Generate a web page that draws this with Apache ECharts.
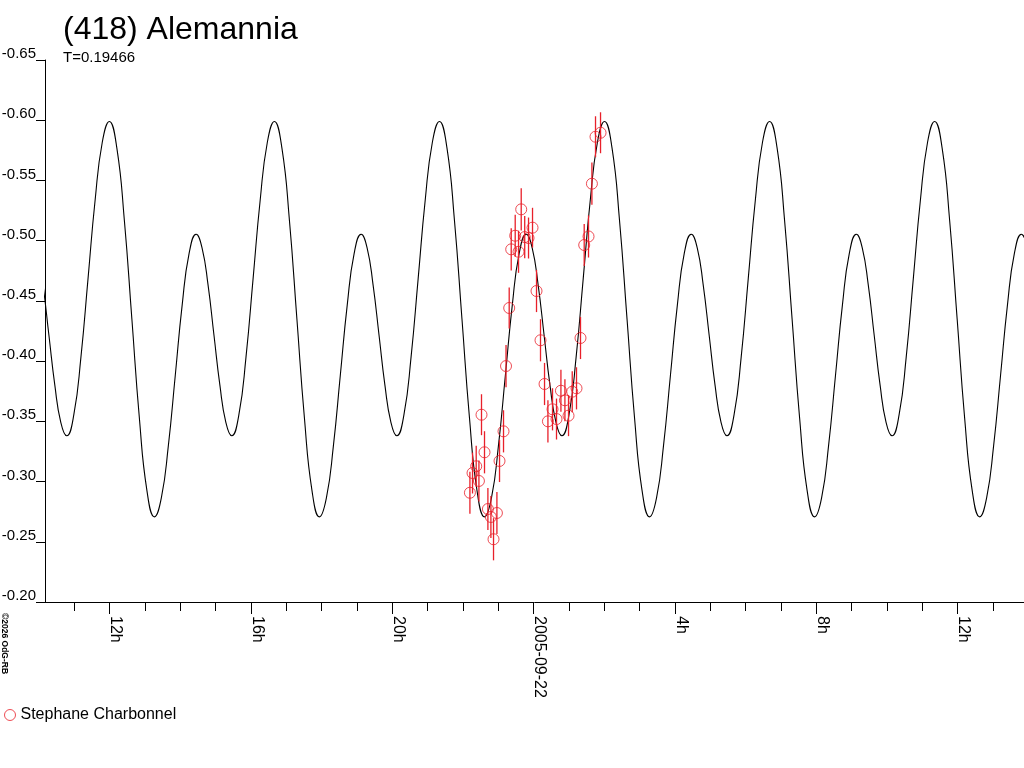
<!DOCTYPE html>
<html>
<head>
<meta charset="utf-8">
<script src="https://cdn.jsdelivr.net/npm/echarts@6/dist/echarts.min.js"></script>
<style>
html,body{margin:0;padding:0;background:#fff;}
#chart{width:1024px;height:768px;}
</style>
</head>
<body>
<div id="chart"></div>
<script>
// ---- text ----
const titleText = '(418) Alemannia';
const subtitleText = 'T=0.19466';
const observerName = 'Stephane Charbonnel';
const copyrightText = '\u00A92026 OdG-RB';

// ---- x axis (hours relative to 2005-09-22 00:00) ----
const xLabelValues = [-12, -8, -4, 0, 4, 8, 12];
const xLabelTexts = ['12h', '16h', '20h', '2005-09-22', '4h', '8h', '12h'];
const xMinorValues = [-13, -12, -11, -10, -9, -8, -7, -6, -5, -4, -3, -2, -1, 0, 1, 2, 3, 4, 5, 6, 7, 8, 9, 10, 11, 12, 13];

// ---- fitted lightcurve (hours, magnitude) ----
const curveHours = [
  -14.225, -14.057, -13.888, -13.720, -13.551, -13.383,
  -13.214, -13.014, -12.813, -12.612, -12.411, -12.210, -12.009, -11.797, -11.584, -11.371, -11.159, -10.946,
  -10.733, -10.537, -10.340, -10.143, -9.947, -9.750, -9.553, -9.385, -9.216, -9.048, -8.879, -8.711,
  -8.543, -8.342, -8.141, -7.940, -7.739, -7.538, -7.338, -7.125, -6.912, -6.700, -6.487, -6.274,
  -6.062, -5.865, -5.668, -5.472, -5.275, -5.078, -4.882, -4.713, -4.545, -4.376, -4.208, -4.039,
  -3.871, -3.670, -3.469, -3.268, -3.068, -2.867, -2.666, -2.453, -2.241, -2.028, -1.815, -1.603,
  -1.390, -1.193, -0.997, -0.800, -0.603, -0.407, -0.210, -0.041, 0.127, 0.296, 0.464, 0.633,
  0.801, 1.002, 1.203, 1.404, 1.604, 1.805, 2.006, 2.219, 2.431, 2.644, 2.857, 3.069,
  3.282, 3.479, 3.675, 3.872, 4.069, 4.265, 4.462, 4.631, 4.799, 4.968, 5.136, 5.305,
  5.473, 5.674, 5.875, 6.075, 6.276, 6.477, 6.678, 6.891, 7.103, 7.316, 7.529, 7.741,
  7.954, 8.151, 8.347, 8.544, 8.741, 8.937, 9.134, 9.302, 9.471, 9.639, 9.808, 9.976,
  10.145, 10.345, 10.546, 10.747, 10.948, 11.149, 11.350, 11.562, 11.775, 11.988, 12.200, 12.413,
  12.626, 12.822, 13.019, 13.216, 13.412, 13.609, 13.806, 13.974, 14.143
];
const curveMag = [
  -0.5053, -0.4941, -0.4635, -0.4217, -0.3798, -0.3492,
  -0.338, -0.3555, -0.4033, -0.4685, -0.5338, -0.5815, -0.599, -0.577, -0.5169, -0.4349, -0.3528, -0.2927,
  -0.2707, -0.2864, -0.3294, -0.388, -0.4467, -0.4896, -0.5053, -0.4941, -0.4635, -0.4217, -0.3798, -0.3492,
  -0.338, -0.3555, -0.4033, -0.4685, -0.5338, -0.5815, -0.599, -0.577, -0.5169, -0.4349, -0.3528, -0.2927,
  -0.2707, -0.2864, -0.3294, -0.388, -0.4467, -0.4896, -0.5053, -0.4941, -0.4635, -0.4217, -0.3798, -0.3492,
  -0.338, -0.3555, -0.4033, -0.4685, -0.5338, -0.5815, -0.599, -0.577, -0.5169, -0.4349, -0.3528, -0.2927,
  -0.2707, -0.2864, -0.3294, -0.388, -0.4467, -0.4896, -0.5053, -0.4941, -0.4635, -0.4217, -0.3798, -0.3492,
  -0.338, -0.3555, -0.4033, -0.4685, -0.5338, -0.5815, -0.599, -0.577, -0.5169, -0.4349, -0.3528, -0.2927,
  -0.2707, -0.2864, -0.3294, -0.388, -0.4467, -0.4896, -0.5053, -0.4941, -0.4635, -0.4217, -0.3798, -0.3492,
  -0.338, -0.3555, -0.4033, -0.4685, -0.5338, -0.5815, -0.599, -0.577, -0.5169, -0.4349, -0.3528, -0.2927,
  -0.2707, -0.2864, -0.3294, -0.388, -0.4467, -0.4896, -0.5053, -0.4941, -0.4635, -0.4217, -0.3798, -0.3492,
  -0.338, -0.3555, -0.4033, -0.4685, -0.5338, -0.5815, -0.599, -0.577, -0.5169, -0.4349, -0.3528, -0.2927,
  -0.2707, -0.2864, -0.3294, -0.388, -0.4467, -0.4896, -0.5053, -0.4941, -0.4635
];

// ---- observations (hours, magnitude, error) ----
const obsHours = [
  -1.803, -1.729, -1.625, -1.548, -1.475, -1.390, -1.294, -1.209, -1.135, -1.039,
  -0.965, -0.852, -0.781, -0.691, -0.634, -0.521, -0.427, -0.351, -0.252, -0.144,
  -0.031, 0.082, 0.195, 0.309, 0.405, 0.535, 0.648, 0.773, 0.886, 0.988,
  1.093, 1.214, 1.327, 1.432, 1.554, 1.650, 1.752, 1.894
];
const obsMag = [
  -0.2907, -0.3071, -0.3127, -0.3005, -0.3555, -0.3243, -0.2772, -0.2706, -0.2521, -0.2739,
  -0.3171, -0.3417, -0.3959, -0.4441, -0.4928, -0.5041, -0.4908, -0.5260, -0.5030, -0.5022,
  -0.5108, -0.4582, -0.4173, -0.3810, -0.3500, -0.3600, -0.3519, -0.3754, -0.3675, -0.3547,
  -0.3746, -0.3774, -0.4192, -0.4964, -0.5035, -0.5473, -0.5863, -0.5896
];
const obsErr = [
  0.0175, 0.0170, 0.0170, 0.0170, 0.0170, 0.0175, 0.0175, 0.0175, 0.0175, 0.0175,
  0.0175, 0.0175, 0.0175, 0.0170, 0.0175, 0.0175, 0.0175, 0.0175, 0.0175, 0.0170,
  0.0165, 0.0175, 0.0175, 0.0175, 0.0175, 0.0175, 0.0170, 0.0175, 0.0175, 0.0170,
  0.0170, 0.0175, 0.0175, 0.0175, 0.0175, 0.0175, 0.0170, 0.0170
];

const FONT = "'Liberation Sans', Arial, sans-serif";
const RED = '#e8202a';

const curveData = curveHours.map((h, i) => [h, curveMag[i]]);
const obsData = obsHours.map((h, i) => [h, obsMag[i], obsErr[i]]);

const chart = echarts.init(document.getElementById('chart'), null, {renderer: 'canvas'});

const gridBox = {left: 45, right: 0, top: 60, bottom: 166, containLabel: false, outerBoundsMode: 'none'};

chart.setOption({
  animation: false,
  backgroundColor: '#ffffff',
  textStyle: {fontFamily: FONT},
  title: {
    text: titleText,
    subtext: subtitleText,
    left: 63,
    top: 14,
    itemGap: 4,
    padding: 0,
    textStyle: {fontFamily: FONT, fontSize: 32, fontWeight: 'normal', color: '#000'},
    subtextStyle: {fontFamily: FONT, fontSize: 15, color: '#000'}
  },
  legend: {
    left: 4,
    top: 707,
    padding: 0,
    itemWidth: 11,
    itemHeight: 11,
    textStyle: {fontFamily: FONT, fontSize: 16, color: '#000'},
    data: [{
      name: observerName,
      icon: 'circle',
      itemStyle: {color: 'rgba(0,0,0,0)', borderColor: RED, borderWidth: 1}
    }]
  },
  graphic: [{
    type: 'text',
    x: 9,
    y: 613,
    rotation: -Math.PI / 2,
    style: {
      text: copyrightText,
      fontFamily: FONT,
      fontSize: 8.5,
      fontWeight: 'bold',
      fill: '#000',
      verticalAlign: 'top',
      align: 'left'
    }
  }],
  grid: [Object.assign({}, gridBox), Object.assign({}, gridBox)],
  xAxis: [{
    gridIndex: 0,
    type: 'value',
    min: -13.83,
    max: 13.88,
    axisLine: {show: true, onZero: false, lineStyle: {color: '#000', width: 1}},
    axisTick: {show: true, customValues: xLabelValues, length: 12, lineStyle: {color: '#000', width: 1}},
    axisLabel: {
      show: true,
      customValues: xLabelValues,
      formatter: function (v) {
        const i = xLabelValues.indexOf(Math.round(v));
        return i >= 0 ? xLabelTexts[i] : '';
      },
      rotate: -90,
      margin: 14,
      fontFamily: FONT,
      fontSize: 16,
      color: '#000',
      verticalAlign: 'bottom',
      lineHeight: 12
    },
    splitLine: {show: false}
  }, {
    gridIndex: 1,
    type: 'value',
    min: -13.83,
    max: 13.88,
    position: 'bottom',
    axisLine: {show: false, onZero: false},
    axisTick: {show: true, customValues: xMinorValues, length: 9, lineStyle: {color: '#000', width: 1}},
    axisLabel: {show: false},
    splitLine: {show: false}
  }],
  yAxis: [{
    gridIndex: 0,
    type: 'value',
    inverse: true,
    min: -0.65,
    max: -0.20,
    interval: 0.05,
    axisLine: {show: true, onZero: false, lineStyle: {color: '#000', width: 1}},
    axisTick: {show: true, length: 9, lineStyle: {color: '#000', width: 1}},
    axisLabel: {
      show: true,
      formatter: function (v) { return v.toFixed(2); },
      margin: 9,
      fontFamily: FONT,
      fontSize: 15,
      color: '#000',
      verticalAlign: 'bottom',
      lineHeight: 12
    },
    splitLine: {show: false}
  }, {
    gridIndex: 1,
    type: 'value',
    inverse: true,
    min: -0.65,
    max: -0.20,
    show: false
  }],
  series: [{
    type: 'line',
    name: 'fit',
    xAxisIndex: 0,
    yAxisIndex: 0,
    data: curveData,
    showSymbol: false,
    smooth: true,
    silent: true,
    lineStyle: {color: '#000', width: 1.1},
    z: 2
  }, {
    type: 'custom',
    name: observerName + ' errors',
    xAxisIndex: 0,
    yAxisIndex: 0,
    data: obsData,
    encode: {x: 0, y: 1},
    renderItem: function (params, api) {
      const x = api.value(0), y = api.value(1), e = api.value(2);
      const p1 = api.coord([x, y - e]);
      const p2 = api.coord([x, y + e]);
      return {
        type: 'line',
        shape: {x1: p1[0], y1: p1[1], x2: p2[0], y2: p2[1]},
        style: {stroke: RED, lineWidth: 1.3}
      };
    },
    silent: true,
    z: 3
  }, {
    type: 'scatter',
    name: observerName,
    xAxisIndex: 0,
    yAxisIndex: 0,
    data: obsData,
    symbol: 'circle',
    symbolSize: 11,
    itemStyle: {color: 'rgba(0,0,0,0)', borderColor: RED, borderWidth: 1},
    z: 4
  }]
});
</script>
</body>
</html>
